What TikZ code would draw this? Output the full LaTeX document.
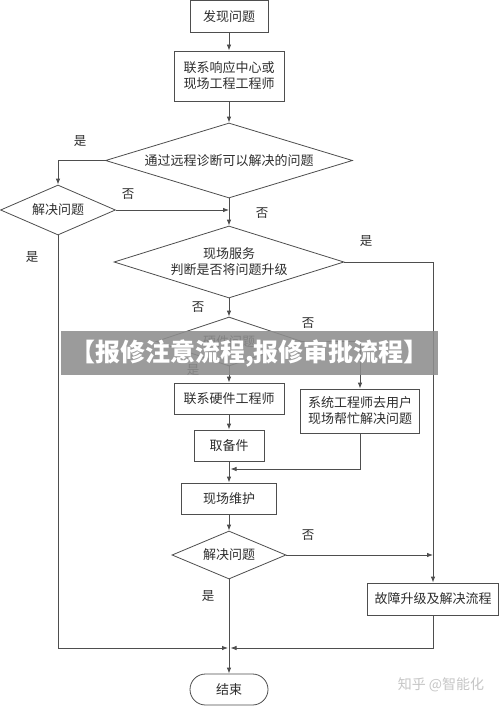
\documentclass[tikz,border=0pt]{standalone}
\usepackage{fontspec}
\setmainfont{Noto Sans CJK SC}
\usetikzlibrary{shapes.geometric,arrows.meta}
\definecolor{lncol}{HTML}{4E4E4E}
\definecolor{txcol}{HTML}{2E2E2E}
\definecolor{bancol}{HTML}{8E8E8E}
\tikzset{
  base/.style={draw=lncol, line width=0.8pt, text=txcol, font=\fontsize{13}{16}\selectfont, align=center, inner sep=0pt},
  proc/.style={base, rectangle},
  dec/.style={base, diamond},
  arr/.style={draw=lncol, line width=0.8pt, -{Latex[length=6pt,width=4.5pt]}},
  lbl/.style={text=txcol, font=\fontsize{12.5}{14}\selectfont, inner sep=0pt},
}
\begin{document}
\begin{tikzpicture}[x=1pt,y=-1pt]
\useasboundingbox (0,0) rectangle (500,706);
\fill[white] (0,0) rectangle (500,706);
% nodes
\node[proc, minimum width=78pt, minimum height=32pt] (b1) at (229,16.5) {发现问题};
\node[proc, minimum width=110pt, minimum height=50pt] (b2) at (229,76) {联系响应中心或\\现场工程工程师};
\node[dec, minimum width=247pt, minimum height=75pt, aspect=3.3] (d1) at (229,160.5) {通过远程诊断可以解决的问题};
\node[dec, minimum width=115pt, minimum height=50pt, aspect=2.3] (d2) at (58,210) {解决问题};
\node[dec, minimum width=230pt, minimum height=72pt, aspect=3.2] (d3) at (229,262) {现场服务\\判断是否将问题升级};
\node[dec, minimum width=146pt, minimum height=49pt, aspect=3] (d4) at (229,341.5) {硬件问题};
\node[proc, minimum width=110pt, minimum height=31pt] (hw) at (229,398.5) {联系硬件工程师};
\node[proc, minimum width=119pt, minimum height=44pt] (sys) at (360,411) {系统工程师去用户\\现场帮忙解决问题};
\node[proc, minimum width=70pt, minimum height=31pt] (part) at (229,445.5) {取备件};
\node[proc, minimum width=95pt, minimum height=31pt] (mt) at (229,498.5) {现场维护};
\node[dec, minimum width=114pt, minimum height=48pt, aspect=2.4] (d5) at (229,555) {解决问题};
\node[proc, minimum width=131pt, minimum height=32pt] (fb) at (433,599) {故障升级及解决流程};
\node[proc, rounded corners=15.5pt, minimum width=78pt, minimum height=31pt] (end) at (229,689.5) {结束};
% connectors
\draw[arr] (b1) -- (b2);
\draw[arr] (b2) -- (d1);
\draw[arr] (d1.west) -| (d2.north);
\draw[arr] (d1.south) -- (d3.north);
\coordinate (j1) at (229,210);
\draw[arr] (d2.east) -- (j1);
\draw[arr] (d3.east) -| (fb.north);
\coordinate (j2) at (fb.north |- d5.east);
\draw[arr] (d5.east) -- (j2);
\draw[arr] (d3.south) -- (d4.north);
\draw[arr] (d4.east) -| (sys.north);
\draw[arr] (d4.south) -- (hw.north);
\draw[arr] (hw) -- (part);
\draw[arr] (part) -- (mt);
\coordinate (j3) at (230.5,469);
\draw[arr] (sys.south) |- (j3);
\draw[arr] (mt) -- (d5);
\draw[arr] (d5.south) -- (end.north);
\coordinate (j4) at (228,648);
\coordinate (j5) at (230.5,648);
\draw[arr] (d2.south) |- (j4);
\draw[arr] (fb.south) |- (j5);
% labels
\node[lbl] (l1) at (80,141) {是};
\node[lbl] (l2) at (128,194) {否};
\node[lbl] (l3) at (262,213) {否};
\node[lbl] (l4) at (366,241) {是};
\node[lbl] (l5) at (32,257) {是};
\node[lbl] (l6) at (198,307) {否};
\node[lbl] (l7) at (308,323) {否};
\node[lbl] (l8) at (193,370) {是};
\node[lbl] (l9) at (308,535) {否};
\node[lbl] (l10) at (208,596) {是};
% overlays
\node[fill=bancol, fill opacity=0.88, text opacity=1, minimum width=377pt, minimum height=44pt, inner sep=0pt, text=white, font=\fontsize{25}{28}\selectfont\bfseries] (ban) at (249.5,353) {【报修注意流程,报修审批流程】};
\node[text=gray!45, font=\fontsize{14}{16}\selectfont, inner sep=0pt] (wm) at (441,685) {知乎 @智能化};
\end{tikzpicture}
\end{document}
